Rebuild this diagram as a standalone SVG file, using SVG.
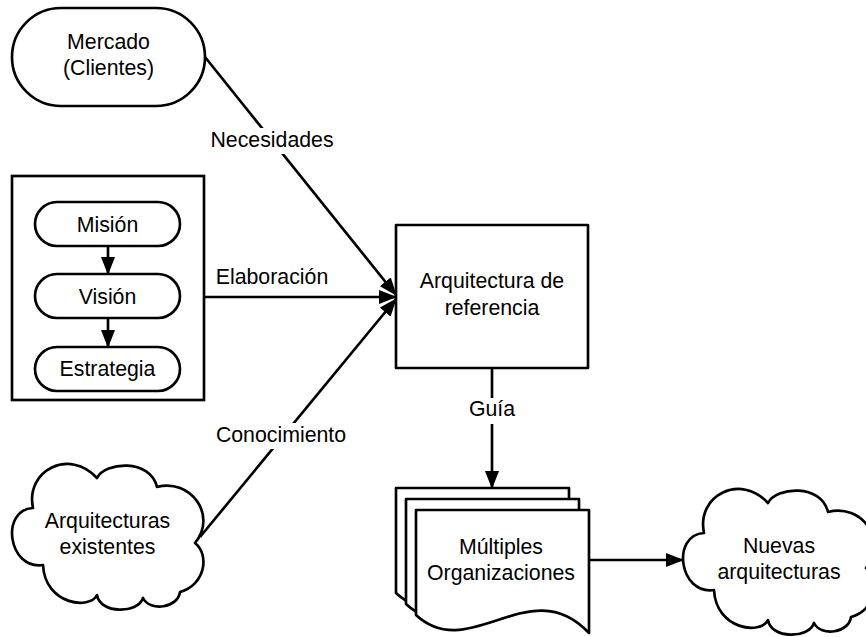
<svg xmlns="http://www.w3.org/2000/svg" width="866" height="637" viewBox="0 0 866 637">
  <style>
    .shape { fill: #ffffff; stroke: #000000; stroke-width: 2.67; stroke-linejoin: round; }
    .frame { fill: none; stroke: #000000; stroke-width: 2.67; }
    .line { fill: none; stroke: #000000; stroke-width: 2.67; }
    .arrow { marker-end: url(#head); }
    text { font-family: "Liberation Sans", Arial, sans-serif; font-size: 21.3px; fill: #000000; text-anchor: middle; }
    .bg { fill: #ffffff; stroke: none; }
  </style>
  <defs>
    <marker id="head" markerUnits="userSpaceOnUse" markerWidth="18" markerHeight="14" refX="17" refY="7" orient="auto">
      <path d="M0,0 L18,7 L0,14 Z" fill="#000000"/>
    </marker>
    <!-- bumpy cloud outline, drawn around the origin of its group -->
    <path id="cloud" d="M33,508 C25,470 70,448 97,478 C105,462 150,458 157,487 C190,478 218,515 195,543 C210,555 205,585 180,592 C178,608 150,612 143,598 C138,614 100,614 97,595 C90,610 45,605 43,565 C8,570 0,510 33,508 Z"/>
    <!-- page with a wavy bottom edge -->
    <path id="page" d="M0,0 H173 V123 C114,60 54,155 0,105 Z"/>
  </defs>

  <g id="mercado">
    <rect class="shape" x="12" y="8" width="193" height="98" rx="49" ry="49"/>
    <text x="108.5" y="48.5">Mercado</text>
    <text x="108.5" y="75.2">(Clientes)</text>
  </g>

  <g id="vision-group">
    <rect class="frame" x="12" y="176" width="192" height="224"/>
  </g>

  <g id="mision">
    <rect class="shape" x="35" y="202" width="145" height="44" rx="22" ry="22"/>
    <text x="107.5" y="231.5">Misión</text>
  </g>

  <g id="vision">
    <rect class="shape" x="35" y="274" width="145" height="44" rx="22" ry="22"/>
    <text x="107.5" y="303.5">Visión</text>
  </g>

  <g id="estrategia">
    <rect class="shape" x="35" y="347" width="145" height="44" rx="22" ry="22"/>
    <text x="107.5" y="376">Estrategia</text>
  </g>

  <g id="arquitectura-referencia">
    <rect class="shape" x="396" y="225" width="192" height="143"/>
    <text x="492" y="288">Arquitectura de</text>
    <text x="492" y="314.5">referencia</text>
  </g>

  <g id="organizaciones">
    <use href="#page" class="shape" x="396" y="488"/>
    <use href="#page" class="shape" x="406" y="499"/>
    <use href="#page" class="shape" x="416" y="510"/>
    <text x="501" y="553.5">Múltiples</text>
    <text x="501" y="579.5">Organizaciones</text>
  </g>

  <g id="arquitecturas-existentes">
    <use href="#cloud" class="shape"/>
    <text x="107.5" y="528.3">Arquitecturas</text>
    <text x="107.5" y="554">existentes</text>
  </g>

  <g id="nuevas-arquitecturas">
    <use href="#cloud" class="shape" x="671" y="25"/>
    <text x="779" y="552.7">Nuevas</text>
    <text x="779" y="579">arquitecturas</text>
  </g>

  <!-- connectors -->
  <g id="connectors">
    <line class="line arrow" x1="205" y1="57" x2="396" y2="295"/>
    <line class="line arrow" x1="204" y1="297" x2="396" y2="297"/>
    <line class="line arrow" x1="200" y1="537" x2="396" y2="299"/>
    <line class="line arrow" x1="108" y1="246" x2="108" y2="274"/>
    <line class="line arrow" x1="108" y1="318" x2="108" y2="347"/>
    <line class="line arrow" x1="492" y1="368" x2="492" y2="488"/>
    <line class="line arrow" x1="589" y1="560" x2="683" y2="560"/>

    <rect class="bg" x="208" y="128" width="128" height="26"/>
    <text x="272" y="147">Necesidades</text>
    <text x="272" y="283.5">Elaboración</text>
    <rect class="bg" x="212" y="423" width="138" height="26"/>
    <text x="281" y="442">Conocimiento</text>
    <rect class="bg" x="466" y="398" width="52" height="26"/>
    <text x="492" y="416">Guía</text>
  </g>
</svg>
